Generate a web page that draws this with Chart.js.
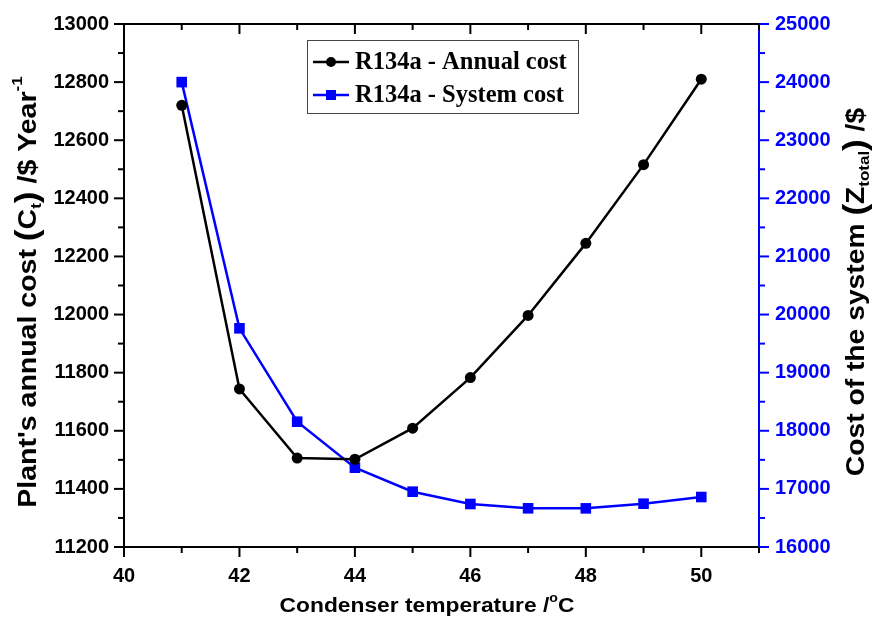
<!DOCTYPE html>
<html>
<head>
<meta charset="utf-8">
<script src="https://cdn.jsdelivr.net/npm/chart.js@4.4.0/dist/chart.umd.min.js"></script>
<style>
  html, body { margin: 0; padding: 0; background: #fff; }
  #wrap { width: 874px; height: 621px; position: relative; }
</style>
</head>
<body>
<div id="wrap"><canvas id="myChart" width="874" height="621"></canvas></div>
<script>
// condenser temperature (°C)
var temps = [41, 42, 43, 44, 45, 46, 47, 48, 49, 50];
// plant's annual cost, left axis
var annualCost = [12720, 11744, 11506, 11502, 11609, 11783, 11997, 12245, 12516, 12810];
// cost of the system, right axis
var systemCost = [24000, 19763, 18156, 17365, 16952, 16740, 16666, 16665, 16745, 16860];

var seriesNames = ['R134a - Annual cost', 'R134a - System cost'];
var xTitle = 'Condenser temperature /';

var tickFont = { family: '"Liberation Sans", Arial, sans-serif', size: 20, weight: 'bold' };
var SANS = '"Liberation Sans", Arial, sans-serif';

function pts(ys) {
    var out = [];
    for (var i = 0; i < temps.length; i++) out.push({ x: temps[i], y: ys[i] });
    return out;
}

// draw text made of pieces (sub/superscripts), rotated and stretched along the text
function richText(ctx, parts, cx, cy, rot, stretch) {
    ctx.save();
    ctx.translate(cx, cy);
    ctx.rotate(rot);
    ctx.scale(stretch || 1, 1);
    ctx.textBaseline = 'middle';
    ctx.textAlign = 'left';
    var total = 0;
    parts.forEach(function (p) {
        ctx.font = p.font;
        p.w = ctx.measureText(p.t).width;
        total += p.w + (p.gap || 0);
    });
    var x = -total / 2;
    parts.forEach(function (p) {
        ctx.font = p.font;
        ctx.fillStyle = p.color || '#000';
        ctx.fillText(p.t, x, p.dy || 0);
        x += p.w + (p.gap || 0);
    });
    ctx.restore();
}

var decor = {
    id: 'decor',
    afterDraw: function (chart) {
        var ctx = chart.ctx;
        var a = chart.chartArea;
        var sx = chart.scales.x, sy = chart.scales.y, sy2 = chart.scales.y2;
        ctx.save();
        ctx.lineWidth = 2;

        // top frame line
        ctx.strokeStyle = '#000';
        ctx.beginPath();
        ctx.moveTo(a.left - 1, a.top);
        ctx.lineTo(a.right, a.top);
        ctx.stroke();

        // x ticks: outward at bottom, inward at top
        sx.ticks.forEach(function (t) {
            var px = sx.getPixelForValue(t.value);
            var major = t.value % 2 === 0;
            var len = major ? 10 : 6;
            ctx.beginPath();
            ctx.moveTo(px, a.bottom);
            ctx.lineTo(px, a.bottom + len);
            ctx.moveTo(px, a.top);
            ctx.lineTo(px, a.top + (major ? 10 : 6));
            ctx.stroke();
        });
        // left y ticks
        sy.ticks.forEach(function (t) {
            var py = sy.getPixelForValue(t.value);
            var len = t.value % 200 === 0 ? 10 : 6;
            ctx.beginPath();
            ctx.moveTo(a.left, py);
            ctx.lineTo(a.left - len, py);
            ctx.stroke();
        });
        // right y ticks
        ctx.strokeStyle = '#0000ff';
        sy2.ticks.forEach(function (t) {
            var py = sy2.getPixelForValue(t.value);
            var len = t.value % 1000 === 0 ? 10 : 6;
            ctx.beginPath();
            ctx.moveTo(a.right, py);
            ctx.lineTo(a.right + len, py);
            ctx.stroke();
        });

        // legend
        ctx.lineWidth = 1;
        ctx.strokeStyle = '#444';
        ctx.strokeRect(307.5, 40.5, 271, 73);
        var rows = [
            { y: 62, color: '#000', style: 'circle' },
            { y: 95, color: '#0000ff', style: 'rect' }
        ];
        rows.forEach(function (r, i) {
            ctx.strokeStyle = r.color;
            ctx.fillStyle = r.color;
            ctx.lineWidth = 2.5;
            ctx.beginPath();
            ctx.moveTo(313, r.y);
            ctx.lineTo(349, r.y);
            ctx.stroke();
            if (r.style === 'circle') {
                ctx.beginPath();
                ctx.arc(331, r.y, 5, 0, Math.PI * 2);
                ctx.fill();
            } else {
                ctx.fillRect(326, r.y - 5, 10, 10);
            }
            ctx.fillStyle = '#000';
            ctx.font = 'bold 24.5px "Liberation Serif", "Times New Roman", serif';
            ctx.textBaseline = 'middle';
            ctx.textAlign = 'left';
            ctx.fillText(seriesNames[i], 355, r.y + 1);
        });

        // axis titles
        var big = 'bold 25px ' + SANS;
        var par = 'bold 31px ' + SANS;
        var small = 'bold 15px ' + SANS;
        richText(ctx, [
            { t: "Plant's annual cost ", font: big },
            { t: '(', font: par, dy: -1 },
            { t: 'C', font: big },
            { t: 't', font: small, dy: 8 },
            { t: ')', font: par, dy: -1 },
            { t: ' /$ Year', font: big },
            { t: '-1', font: small, dy: -11 }
        ], 29, 292, -Math.PI / 2, 1.14);

        richText(ctx, [
            { t: 'Cost of the system ', font: big },
            { t: '(', font: par, dy: -1 },
            { t: 'Z', font: big },
            { t: 'total', font: small, dy: 8 },
            { t: ')', font: par, dy: -1 },
            { t: ' /$', font: big }
        ], 857, 292, -Math.PI / 2, 1.13);

        var xt = 'bold 21px ' + SANS;
        richText(ctx, [
            { t: xTitle, font: xt },
            { t: 'o', font: 'bold 13px ' + SANS, dy: -8 },
            { t: 'C', font: xt }
        ], 427, 606, 0, 1.085);

        ctx.restore();
    }
};

var config = {
    type: 'line',
    data: {
        datasets: [{
            label: seriesNames[0],
            data: pts(annualCost),
            yAxisID: 'y',
            borderColor: '#000',
            backgroundColor: '#000',
            borderWidth: 2.5,
            pointStyle: 'circle',
            pointRadius: 5.5,
            pointBorderWidth: 0,
            tension: 0
        }, {
            label: seriesNames[1],
            data: pts(systemCost),
            yAxisID: 'y2',
            borderColor: '#0000ff',
            backgroundColor: '#0000ff',
            borderWidth: 2.5,
            pointStyle: 'rect',
            pointRadius: 7.5,
            pointBorderWidth: 0,
            tension: 0
        }]
    },
    options: {
        responsive: false,
        animation: false,
        layout: { padding: { top: 24, left: 0, right: 0, bottom: 0 } },
        plugins: { legend: { display: false }, tooltip: { enabled: false } },
        scales: {
            x: {
                type: 'linear',
                min: 40, max: 51,
                afterFit: function (s) { s.height = 74; },
                grid: { display: true, drawOnChartArea: false, drawTicks: true, tickLength: 10, tickColor: 'rgba(0,0,0,0)' },
                border: { display: true, color: '#000', width: 2 },
                ticks: {
                    stepSize: 1,
                    autoSkip: false,
                    maxRotation: 0,
                    padding: 7,
                    color: '#000',
                    font: tickFont,
                    callback: function (v) { return (v % 2 === 0 && v <= 50) ? String(v) : ''; }
                }
            },
            y: {
                position: 'left',
                min: 11200, max: 13000,
                afterFit: function (s) { s.width = 124; },
                grid: { display: true, drawOnChartArea: false, drawTicks: true, tickLength: 10, tickColor: 'rgba(0,0,0,0)' },
                border: { display: true, color: '#000', width: 2 },
                ticks: {
                    stepSize: 100,
                    autoSkip: false,
                    padding: 5,
                    color: '#000',
                    font: tickFont,
                    callback: function (v) { return v % 200 === 0 ? String(v) : ''; }
                }
            },
            y2: {
                position: 'right',
                min: 16000, max: 25000,
                afterFit: function (s) { s.width = 115; },
                grid: { display: true, drawOnChartArea: false, drawTicks: true, tickLength: 10, tickColor: 'rgba(0,0,0,0)' },
                border: { display: true, color: '#0000ff', width: 2 },
                ticks: {
                    stepSize: 500,
                    autoSkip: false,
                    padding: 6,
                    color: '#0000ff',
                    font: tickFont,
                    callback: function (v) { return v % 1000 === 0 ? String(v) : ''; }
                }
            }
        }
    },
    plugins: [decor]
};

var myChart = new Chart(document.getElementById('myChart'), config);
</script>
</body>
</html>
